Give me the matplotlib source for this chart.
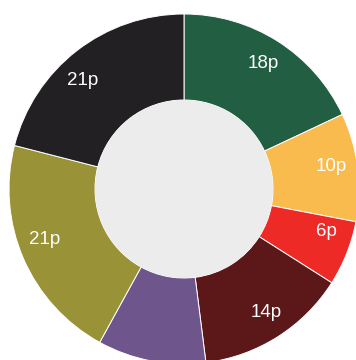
import matplotlib.pyplot as plt
from matplotlib.patches import Circle
import numpy as np

# slices clockwise from 12 o'clock
values = [18, 10, 6, 14, 10, 21, 21]
labels = ['18p', '10p', '6p', '14p', '', '21p', '21p']
colors = ['#225E42', '#F9BA4E', '#EE2A27', '#5C1719', '#6E568C', '#9A9236', '#222023']
# small angular nudges (deg, clockwise) so labels sit where the original has them
nudge = [0, -1.6, -4.8, -1.2, 0, 3.4, -5.4]

W, H = 356, 360
cx, cy = 184, H - 189           # pie centre in pixel coords
R, r_in = 175, 89               # outer / inner radius

fig = plt.figure(figsize=(W/100, H/100), dpi=100)
ax = fig.add_axes([0, 0, 1, 1])
wedges, _ = ax.pie(values, colors=colors, startangle=90, counterclock=False,
                   radius=R, center=(cx, cy),
                   wedgeprops=dict(width=R - r_in, edgecolor='white', linewidth=0.7))
ax.add_patch(Circle((cx, cy), r_in, facecolor='#ECECEC', edgecolor='none'))

for w, lab, dn in zip(wedges, labels, nudge):
    if not lab:
        continue
    a = np.deg2rad((w.theta1 + w.theta2) / 2 - dn)
    ax.text(cx + 0.85*R*np.cos(a), cy + 0.85*R*np.sin(a), lab,
            ha='center', va='center', color='white', fontsize=13.5,
            family='Liberation Sans')

ax.set_xlim(0, W)
ax.set_ylim(0, H)
ax.set_aspect('equal')
ax.axis('off')
fig.savefig('out.png', dpi=100, facecolor='white')
